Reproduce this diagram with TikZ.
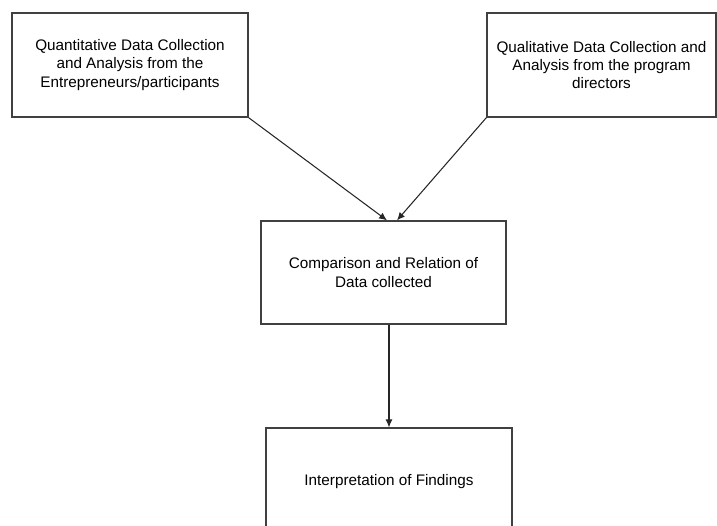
\documentclass[tikz,border=0pt]{standalone}
\usepackage{fontspec}
\setmainfont{Liberation Sans}
\usetikzlibrary{arrows.meta}

\begin{document}
\begin{tikzpicture}[
        x=0.02cm, y=-0.02cm,
        box/.style={rectangle, draw=black!75, line width=0.75pt, align=center, inner sep=0pt, font=\fontsize{8.7}{10.3}\selectfont},
        arrow/.style={-{Latex[length=4.5pt, width=4pt]}, black!85, line width=0.6pt}
    ]
        \clip (0,0) rectangle (717,525);

        \node[box, minimum width=4.72cm, minimum height=2.08cm] (quant) at (130,65) {Quantitative Data Collection\\ and Analysis from the\\ Entrepreneurs/participants};
        \node[box, minimum width=4.58cm, minimum height=2.08cm] (qual) at (601.5,65) {Qualitative Data Collection and\\ Analysis from the program\\ directors};
        \node[box, minimum width=4.9cm, minimum height=2.06cm] (comp) at (383.5,272.5) {Comparison and Relation of\\ Data collected};
        \node[box, minimum width=4.92cm, minimum height=2.16cm] (interp) at (389,482) {Interpretation of Findings};

        \draw[arrow] (quant.south east) -- ([xshift=0.07cm]comp.north);
        \draw[arrow] (qual.south west) -- ([xshift=0.27cm]comp.north);
        \draw[arrow] (comp.south -| interp.north) -- (interp.north);
    \end{tikzpicture}
\end{document}
